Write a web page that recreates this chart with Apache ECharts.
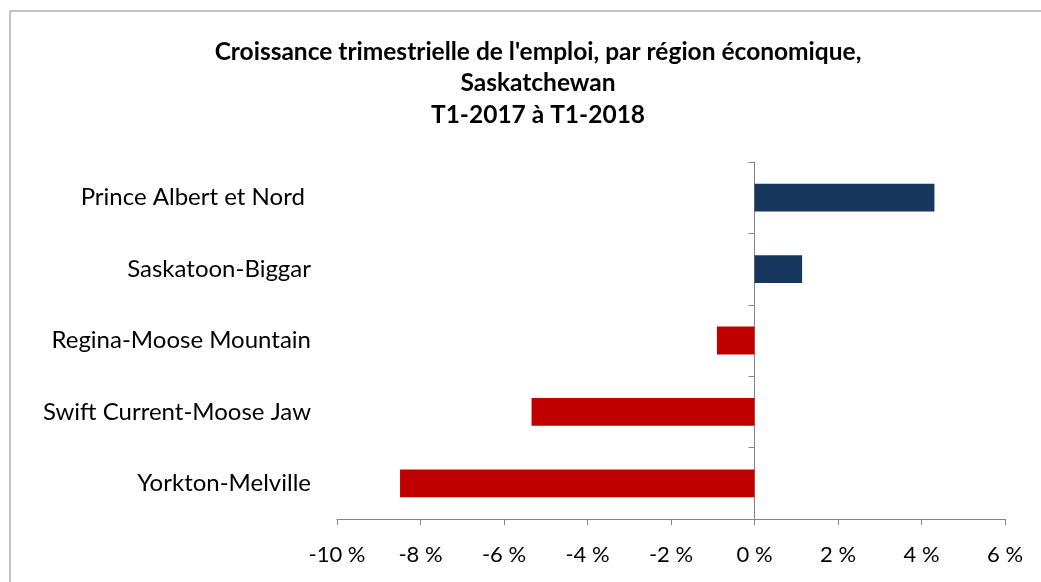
<!DOCTYPE html>
<html>
<head>
<meta charset="utf-8">
<script src="https://cdn.jsdelivr.net/npm/echarts@6/dist/echarts.min.js"></script>
<style>
  html, body { margin: 0; padding: 0; background: #fff; }
  #chart { width: 1041px; height: 582px; }
</style>
</head>
<body>
<div id="chart"></div>
<script>
// données (de bas en haut, comme l'axe des catégories)
const regions = ['Yorkton-Melville', 'Swift Current-Moose Jaw', 'Regina-Moose Mountain', 'Saskatoon-Biggar', 'Prince Albert et Nord ']
const growth = [-8.49, -5.34, -0.9, 1.14, 4.31]
const titleLines = ["Croissance trimestrielle de l'emploi, par région économique,", 'Saskatchewan', 'T1-2017 à T1-2018']

const POS = '#17375E'
const NEG = '#C00000'
const GREY = '#868686'
const FONT = 'Lato, "DejaVu Sans", sans-serif'

const chart = echarts.init(document.getElementById('chart'))

chart.setOption({
  animation: false,
  backgroundColor: '#fff',
  title: {
    text: titleLines.join('\n'),
    left: 533, top: 31, textAlign: 'center',
    textStyle: { fontFamily: FONT, fontWeight: 'bold', fontSize: 24.5, lineHeight: 31.5, color: '#000' },
  },
  graphic: [{
    type: 'rect', silent: true,
    shape: { x: 10, y: 11, width: 1200, height: 800 },
    style: { fill: 'none', stroke: GREY, lineWidth: 1 },
  }],
  grid: { left: 337, right: 36, top: 162, bottom: 63, containLabel: false },
  xAxis: {
    type: 'value', min: -10, max: 6, interval: 2,
    axisLine: { show: true, onZero: false, lineStyle: { color: GREY, width: 1 } },
    axisTick: { show: true, length: 6, lineStyle: { color: GREY } },
    splitLine: { show: false },
    axisLabel: { color: '#000', fontFamily: FONT, fontSize: 22, margin: 25, formatter: (v) => v + ' %' },
  },
  yAxis: [
    {
      type: 'category', data: regions, position: 'left',
      axisLine: { show: false, onZero: false },
      axisTick: { show: false },
      axisLabel: { color: '#000', fontFamily: FONT, fontSize: 24, margin: 26 },
    },
    {
      // ligne verticale à 0 avec ses graduations
      type: 'category', data: regions, position: 'left',
      axisLine: { show: true, onZero: true, lineStyle: { color: GREY, width: 1 } },
      axisTick: { show: true, length: 6, lineStyle: { color: GREY } },
      axisLabel: { show: false },
    },
  ],
  series: [{
    type: 'bar', yAxisIndex: 0, barCategoryGap: '61%',
    data: growth.map((v) => ({ value: v, itemStyle: { color: v >= 0 ? POS : NEG } })),
  }],
})
</script>
</body>
</html>
